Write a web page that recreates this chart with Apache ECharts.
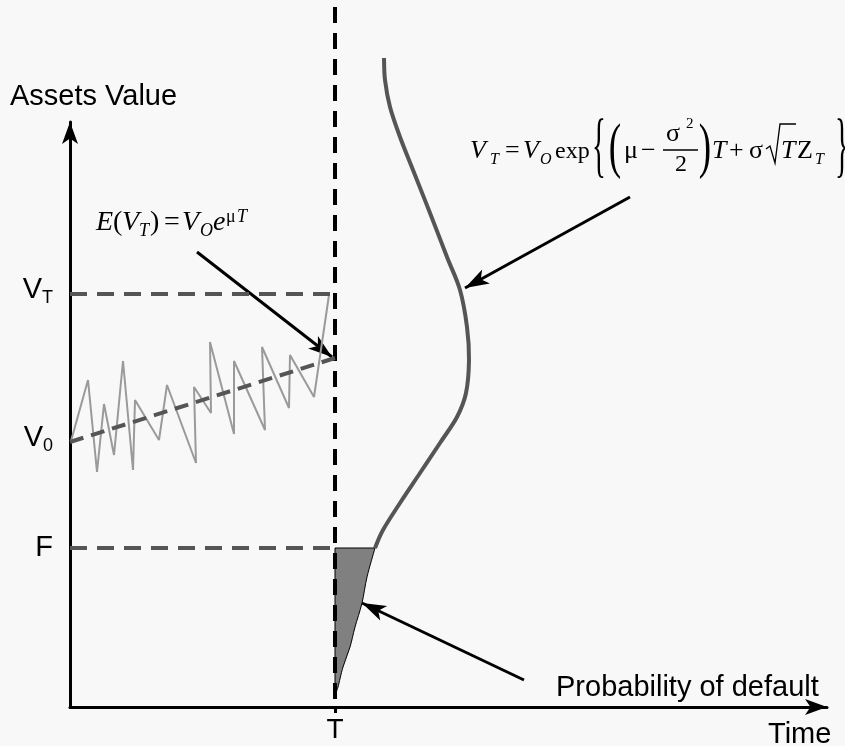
<!DOCTYPE html>
<html>
<head>
<meta charset="utf-8">
<script src="https://cdn.jsdelivr.net/npm/echarts@6/dist/echarts.min.js"></script>
<style>
html, body { margin: 0; padding: 0; background: #f8f8f8; }
#main { width: 845px; height: 746px; }
</style>
</head>
<body>
<div id="main"></div>
<script>
// sketch units: x = time, y = assets value
const T = 265;
const levelValues = [413, 265, 159];
const levelNames = ['V_T', 'V_0', 'F'];
const dashedLevels = [413, 159];

// expected value E(V_T)
const expectedX = [0, 265];
const expectedY = [265, 349];

// one simulated asset path
const pathX = [1, 18, 27, 34, 44, 53, 63, 65, 89, 97, 126, 124, 141, 140, 164, 164, 195, 192, 219, 220, 244, 259];
const pathY = [266, 327, 235, 303, 252, 346, 237, 307, 267, 322, 244, 320, 294, 365, 273, 346, 277, 360, 299, 352, 310, 412];

// distribution of V_T (drawn sideways at T)
const densX = [314, 315, 320, 330, 343, 360, 377, 390, 397, 399, 396, 387, 370, 350, 330, 313, 305];
const densY = [649, 627, 600, 570, 537, 494, 450, 417, 380, 347, 314, 290, 264, 234, 204, 177, 159];

// lower tail below F = probability of default
const tailX = [305, 297, 292, 285, 280, 273, 268, 266];
const tailY = [159, 130, 104, 80, 60, 40, 20, 15];

// annotation arrows
const arrowFrom = [[127, 455], [560, 510], [454, 27]];
const arrowTo = [[262, 350], [395, 419], [292, 104]];

const zip = (xs, ys) => xs.map((x, i) => [x, ys[i]]);

const sans = '"Liberation Sans", Arial, sans-serif';
const serif = '"Liberation Serif", "Times New Roman", serif';

const chart = echarts.init(document.getElementById('main'));

// catmull-rom through already projected points -> svg path commands
function splineCmds(p) {
  let d = '';
  for (let i = 0; i < p.length - 1; i++) {
    const p0 = p[i - 1] || p[i], p1 = p[i], p2 = p[i + 1], p3 = p[i + 2] || p2;
    const c1 = [p1[0] + (p2[0] - p0[0]) / 6, p1[1] + (p2[1] - p0[1]) / 6];
    const c2 = [p2[0] - (p3[0] - p1[0]) / 6, p2[1] - (p3[1] - p1[1]) / 6];
    d += ' C' + c1.join(' ') + ' ' + c2.join(' ') + ' ' + p2.join(' ');
  }
  return d;
}

// formula pieces: left x, baseline y
function glyph(x, base, text, size, italic) {
  return {
    type: 'text',
    x: x,
    y: base - 0.3375 * size,
    silent: true,
    style: {
      text: text,
      font: (italic ? 'italic ' : '') + size + 'px ' + serif,
      fill: '#000',
      align: 'left',
      verticalAlign: 'middle'
    }
  };
}
function bigGlyph(cx, cy, text, size, sx) {
  return {
    type: 'text', x: cx, y: cy, scaleX: sx, silent: true,
    style: { text: text, font: size + 'px ' + serif, fill: '#000', align: 'center', verticalAlign: 'middle' }
  };
}
function label(x, cy, text) {
  return {
    type: 'text', x: x, y: cy, silent: true,
    style: { text: text, font: '29px ' + sans, fill: '#000', align: 'left', verticalAlign: 'middle' }
  };
}

const graphics = [
  label(10, 97, 'Assets Value'),
  label(768, 735, 'Time'),
  label(556, 688, 'Probability of default'),

  // E(V_T) = V_O e^{μT}
  glyph(96, 232, 'E', 28, true),
  glyph(113, 232, '(', 28, false),
  glyph(122, 232, 'V', 28, true),
  glyph(139, 237, 'T', 18, true),
  glyph(150, 232, ')', 28, false),
  glyph(164, 232, '=', 28, false),
  glyph(182, 232, 'V', 28, true),
  glyph(200, 237, 'O', 18, true),
  glyph(213, 232, 'e', 28, true),
  glyph(226, 223, 'μ', 18, false),
  glyph(237, 223, 'T', 18, true),

  // V_T = V_O exp{ (μ - σ²/2) T + σ √T Z_T }
  glyph(470, 160, 'V', 26, true),
  glyph(490, 165, 'T', 16, true),
  glyph(505, 160, '=', 26, false),
  glyph(523, 160, 'V', 26, true),
  glyph(540, 165, 'O', 16, true),
  glyph(555, 160, 'exp', 24, false),
  bigGlyph(599, 149, '{', 72, 0.4),
  bigGlyph(615, 150, '(', 62, 0.6),
  glyph(624, 160, 'μ', 26, false),
  glyph(641, 160, '\u2212', 26, false),
  glyph(666, 143, 'σ', 26, false),
  glyph(686, 129, '2', 15, false),
  { type: 'line', silent: true, shape: { x1: 663, y1: 150, x2: 698, y2: 150 }, style: { stroke: '#000', lineWidth: 1.3 } },
  glyph(675, 173, '2', 24, false),
  bigGlyph(705, 150, ')', 62, 0.6),
  glyph(712, 160, 'T', 26, true),
  glyph(729, 160, '+', 26, false),
  glyph(749, 160, 'σ', 26, false),
  { type: 'polyline', silent: true, shape: { points: [[766, 149], [770, 146], [775, 163], [780, 124], [796, 124]] }, style: { stroke: '#000', lineWidth: 1.3, fill: null } },
  glyph(781, 160, 'T', 26, true),
  glyph(797, 160, 'Z', 26, false),
  glyph(815, 165, 'T', 16, true),
  bigGlyph(842, 149, '}', 72, 0.4)
];

const labelRich = {
  v: { fontSize: 29, fontFamily: sans, color: '#000', lineHeight: 34 },
  s: { fontSize: 18, fontFamily: sans, color: '#000', lineHeight: 16, verticalAlign: 'bottom' },
  f: { fontSize: 29, fontFamily: sans, color: '#000', lineHeight: 34, padding: [8, 0, 0, 0] }
};

const option = {
  backgroundColor: '#f8f8f8',
  animation: false,
  grid: { left: 70, top: 122, right: 18, bottom: 39 },
  xAxis: {
    type: 'value',
    min: 0,
    max: 757,
    splitLine: { show: false },
    axisLine: {
      onZero: false,
      lineStyle: { color: '#000', width: 3 },
      symbol: ['none', 'arrow'],
      symbolSize: [12, 22]
    },
    axisTick: {
      show: true,
      customValues: [T],
      length: 6,
      lineStyle: { color: '#000', width: 3 }
    },
    axisLabel: {
      customValues: [T],
      formatter: () => 'T',
      margin: 9,
      fontSize: 28,
      fontFamily: sans,
      color: '#000'
    }
  },
  yAxis: {
    type: 'value',
    min: 0,
    max: 585,
    splitLine: { show: false },
    axisLine: {
      onZero: false,
      lineStyle: { color: '#000', width: 3 },
      symbol: ['none', 'arrow'],
      symbolSize: [12, 22]
    },
    axisTick: { show: false },
    axisLabel: {
      customValues: levelValues,
      margin: 17,
      padding: [0, 0, 8, 0],
      formatter: (v) => {
        const name = levelNames[levelValues.indexOf(v)] || '';
        const parts = name.split('_');
        return parts.length > 1 ? '{v|' + parts[0] + '}{s|' + parts[1] + '}' : '{f|' + parts[0] + '}';
      },
      rich: labelRich
    }
  },
  graphic: { elements: graphics },
  series: [
    {
      name: 'levels',
      type: 'line',
      data: [],
      markLine: {
        silent: true,
        symbol: ['none', 'none'],
        label: { show: false },
        lineStyle: { color: '#555', width: 4, type: [17, 10] },
        data: dashedLevels.map(v => [{ coord: [0, v] }, { coord: [T - 4, v] }])
      }
    },
    {
      name: 'T line',
      type: 'line',
      clip: false,
      showSymbol: false,
      data: [[T, 700], [T, 0]],
      lineStyle: { color: '#000', width: 4, type: [16, 10] }
    },
    {
      name: 'path',
      type: 'line',
      showSymbol: false,
      data: zip(pathX, pathY),
      lineStyle: { color: '#9a9a9a', width: 2 }
    },
    {
      name: 'expected',
      type: 'line',
      showSymbol: false,
      data: zip(expectedX, expectedY),
      lineStyle: { color: '#555', width: 4, type: [14, 8] }
    },
    {
      name: 'default area',
      type: 'custom',
      data: [0],
      renderItem: (params, api) => {
        const p = zip(tailX, tailY).map(q => api.coord(q));
        const top = api.coord([T, tailY[0]]);
        const bottom = api.coord([T, tailY[tailY.length - 1]]);
        const d = 'M' + top.join(' ') + ' L' + p[0].join(' ') + splineCmds(p) + ' L' + bottom.join(' ') + ' Z';
        return {
          type: 'path',
          shape: { pathData: d },
          style: { fill: '#808080', stroke: '#000', lineWidth: 1 }
        };
      }
    },
    {
      name: 'density',
      type: 'custom',
      data: [0],
      renderItem: (params, api) => {
        const p = zip(densX, densY).map(q => api.coord(q));
        return {
          type: 'path',
          shape: { pathData: 'M' + p[0].join(' ') + splineCmds(p) },
          style: { fill: 'none', stroke: '#555', lineWidth: 4 }
        };
      }
    },
    {
      name: 'arrows',
      type: 'lines',
      coordinateSystem: 'cartesian2d',
      symbol: ['none', 'arrow'],
      symbolSize: [10, [12, 24]],
      lineStyle: { color: '#000', width: 3, opacity: 1, curveness: 0 },
      data: arrowFrom.map((a, i) => ({ coords: [a, arrowTo[i]] }))
    }
  ]
};

chart.setOption(option);
</script>
</body>
</html>
